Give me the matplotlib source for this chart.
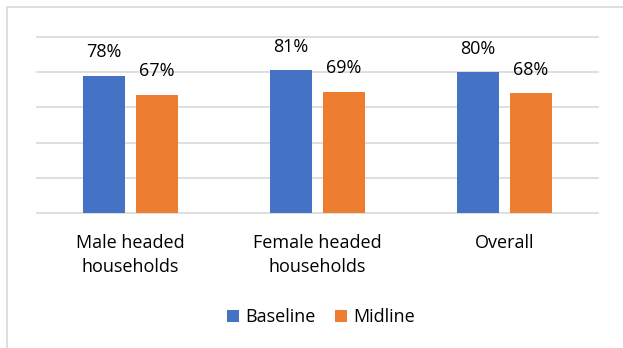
import numpy as np
import matplotlib.pyplot as plt
from matplotlib.patches import Rectangle, Patch

# dati del grafico
categorie = ['Male headed\nhouseholds', 'Female headed\nhouseholds', 'Overall']
baseline = [0.78, 0.81, 0.80]
midline = [0.67, 0.69, 0.68]
serie = ['Baseline', 'Midline']
colori = ['#4472C4', '#ED7D31']

plt.rcParams['font.family'] = ['Open Sans', 'DejaVu Sans']

W, H = 623, 348
fig = plt.figure(figsize=(W / 100, H / 100), dpi=100)

# cornice grigia del riquadro
fig.patches.append(Rectangle((7 / W, -0.1), 1.2, 1 - 7 / H + 0.1, transform=fig.transFigure,
                             fill=False, edgecolor='#d9d9d9', linewidth=1.2))

ax = fig.add_axes([37 / W, (H - 213) / H, (598 - 37) / W, (213 - 37) / H])

x = np.arange(len(categorie))
larg = 0.225
off = 0.142

b1 = ax.bar(x - off, baseline, larg, color=colori[0], zorder=3)
b2 = ax.bar(x + off, midline, larg, color=colori[1], zorder=3)

# etichette con le percentuali sopra le barre
for barre, valori in ((b1, baseline), (b2, midline)):
    for b, v in zip(barre, valori):
        ax.annotate(f'{v * 100:.0f}%', (b.get_x() + b.get_width() / 2, v),
                    xytext=(0, 17), textcoords='offset points',
                    ha='center', va='center', fontsize=13, color='black')

ax.set_xlim(-0.5, 2.5)
ax.set_ylim(0, 1)
ax.set_yticks(np.arange(0, 1.01, 0.2))
ax.set_yticklabels([])
ax.yaxis.grid(True, color='#d9d9d9', linewidth=1.2, zorder=0)
for g in ax.get_ygridlines():
    g.set_clip_on(False)
ax.tick_params(axis='y', length=0)
ax.tick_params(axis='x', length=0, pad=15)
ax.set_xticks(x)
ax.set_xticklabels(categorie, fontsize=13, color='black', linespacing=1.45)
for s in ax.spines.values():
    s.set_visible(False)

handles = [Patch(facecolor=c, label=l) for c, l in zip(colori, serie)]
fig.legend(handles=handles, loc='center', bbox_to_anchor=(321 / W, 1 - 317 / H),
           ncol=2, frameon=False, fontsize=13, handlelength=0.65, handleheight=0.65,
           handletextpad=0.35, columnspacing=1.1, labelcolor='black')

fig.savefig('out.png', dpi=100)
